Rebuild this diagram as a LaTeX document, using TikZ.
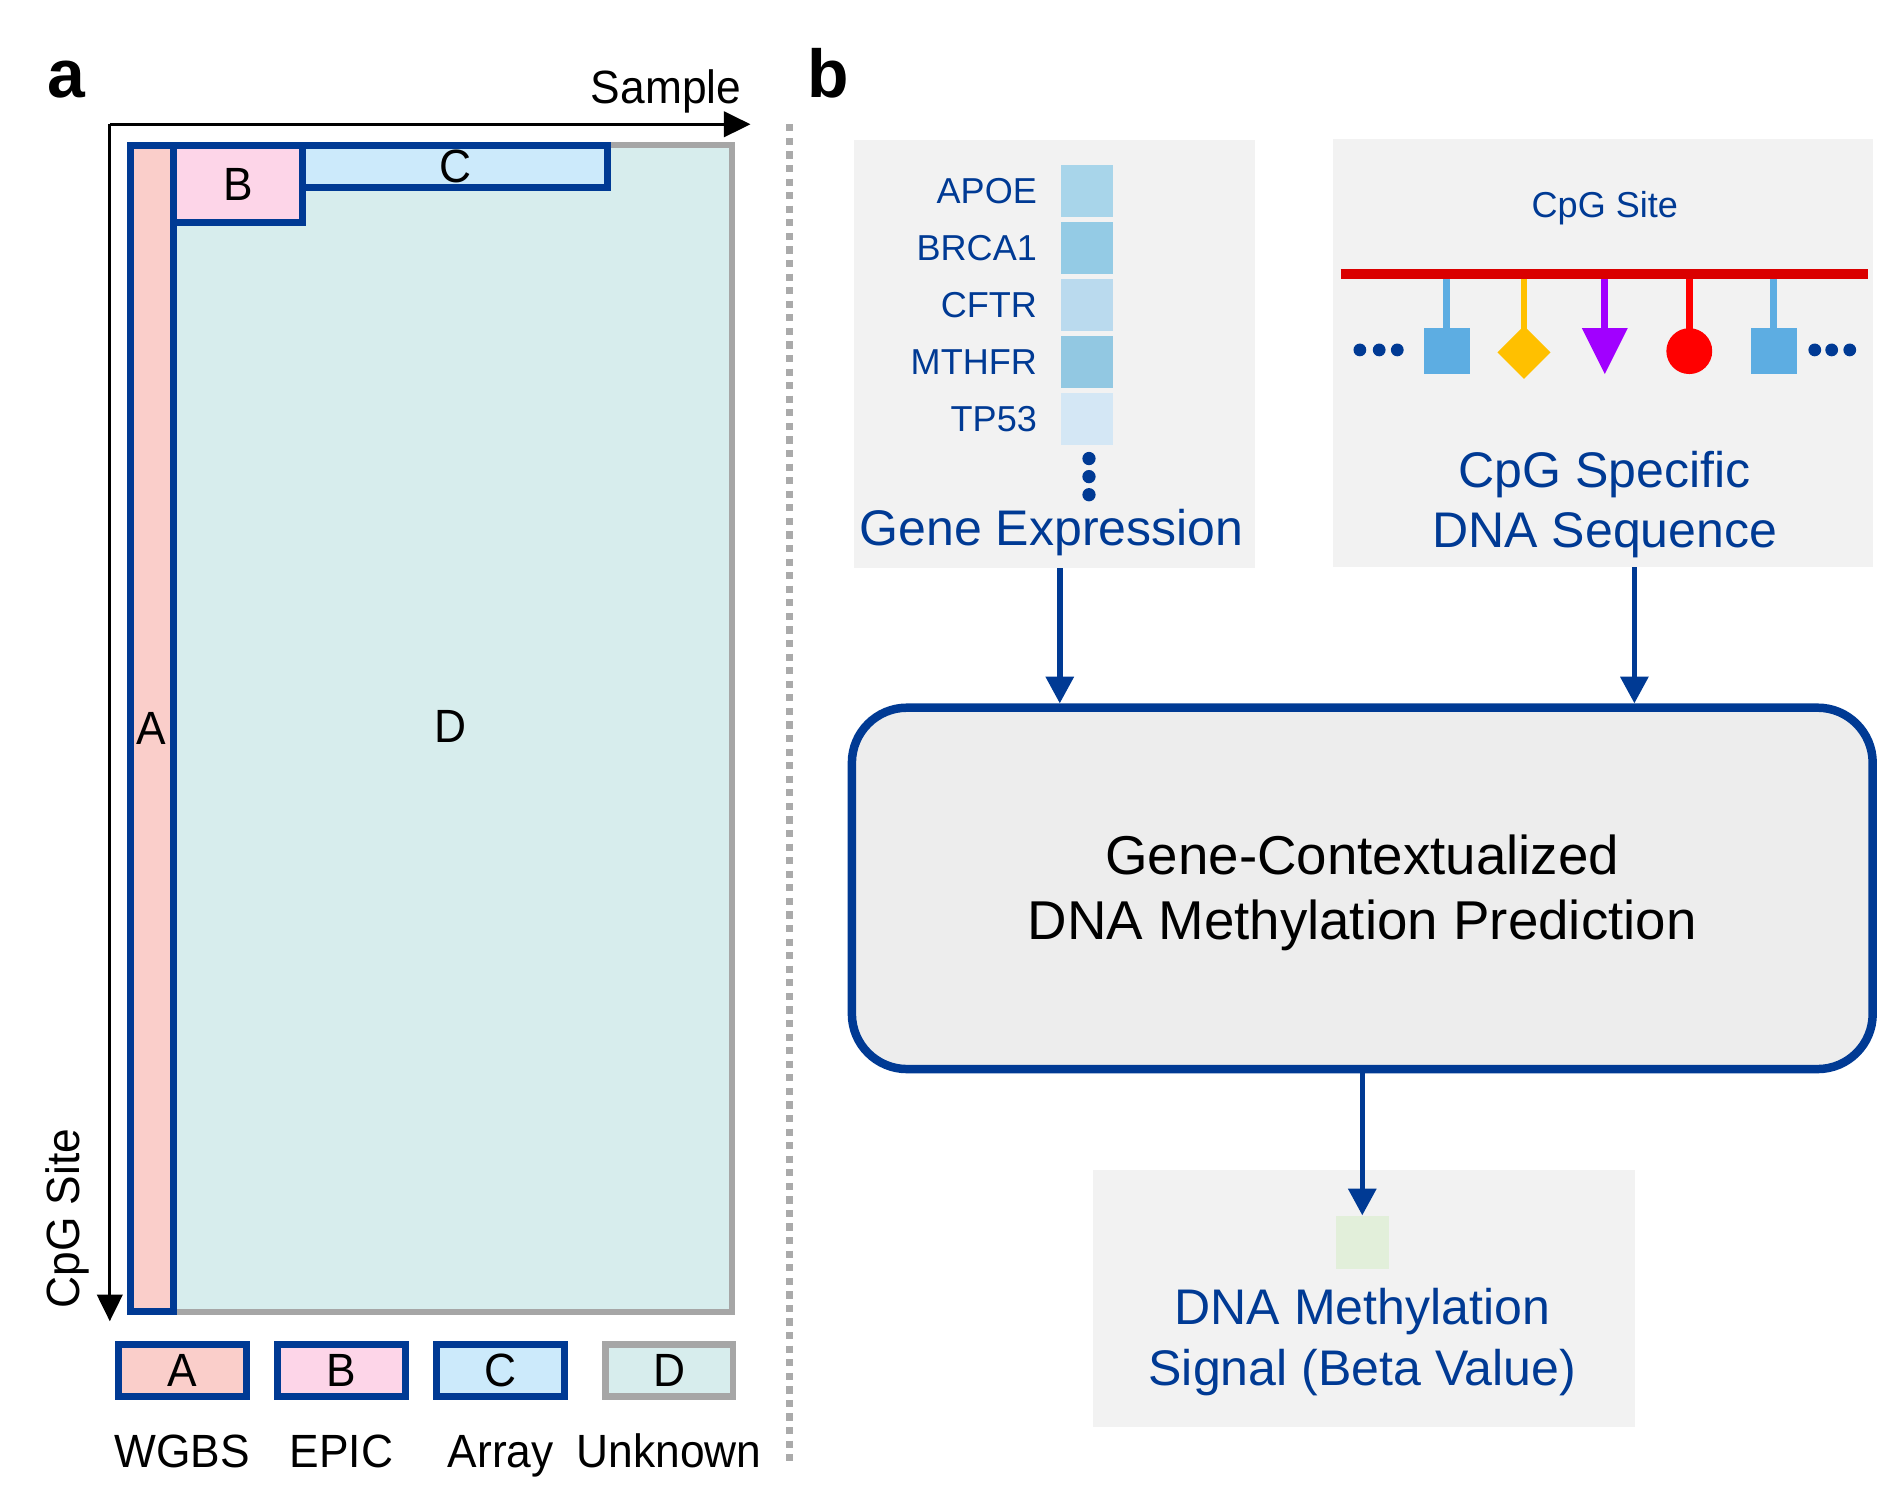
\documentclass[tikz,border=0pt]{standalone}
\usepackage{fontspec}
\setmainfont{Liberation Sans}
\newfontfamily\narrowsans[FakeStretch=0.95]{Liberation Sans}
\usetikzlibrary{arrows.meta,positioning}

\definecolor{navy}{RGB}{0,58,148}
\definecolor{edgegray}{RGB}{166,166,166}
\definecolor{dotgray}{RGB}{170,170,170}
\definecolor{panelgray}{RGB}{242,242,242}
\definecolor{boxgray}{RGB}{237,237,237}
\definecolor{fillA}{RGB}{250,206,202}
\definecolor{fillB}{RGB}{253,213,232}
\definecolor{fillC}{RGB}{204,234,251}
\definecolor{fillD}{RGB}{215,237,237}
\definecolor{apoe}{RGB}{168,213,234}
\definecolor{brca}{RGB}{148,203,229}
\definecolor{cftr}{RGB}{186,218,238}
\definecolor{mthfr}{RGB}{146,200,226}
\definecolor{tpft}{RGB}{212,231,245}
\definecolor{betagreen}{RGB}{226,239,218}
\definecolor{cpgblue}{RGB}{93,173,226}
\definecolor{cpgyellow}{RGB}{255,192,0}
\definecolor{cpgpurple}{RGB}{161,0,255}
\definecolor{cpgred}{RGB}{255,0,0}
\definecolor{strand}{RGB}{218,0,0}

\tikzstyle{cell}=[draw=navy, line width=1.6pt, inner sep=0pt, outer sep=0pt,
    anchor=north west, font=\narrowsans\fontsize{11}{13}\selectfont]
\tikzstyle{legbox}=[draw=navy, line width=1.6pt, inner sep=0pt,
    minimum width=10.6mm, minimum height=4.3mm, font=\narrowsans\fontsize{11}{13}\selectfont]
\tikzstyle{axislab}=[inner sep=0pt, font=\narrowsans\fontsize{11}{13}\selectfont]
\tikzstyle{panelno}=[inner sep=0pt, font=\fontsize{16}{19}\selectfont\bfseries, anchor=base]
\tikzstyle{panel}=[fill=panelgray, inner sep=0pt, outer sep=0pt, anchor=north west]
\tikzstyle{genesq}=[inner sep=0pt, minimum width=4.3mm, minimum height=4.3mm]
\tikzstyle{genelab}=[text=navy, inner sep=0pt, anchor=east,
    font=\fontsize{8.5}{10}\selectfont]
\tikzstyle{bigblue}=[text=navy, inner sep=0pt, anchor=base,
    font=\fontsize{11.8}{14.2}\selectfont]
\tikzstyle{predbox}=[draw=navy, line width=2pt, fill=boxgray, rounded corners=13pt,
    minimum width=84.6mm, minimum height=29.95mm, inner sep=0pt]
\tikzstyle{predtext}=[inner sep=0pt, anchor=base, font=\fontsize{12.9}{15.6}\selectfont]
\tikzstyle{flow}=[draw=navy, line width=1.3pt, -{Triangle[length=6.3pt,width=6.4pt]}]
\tikzstyle{axis}=[line width=0.7pt, -{Triangle[length=6.3pt,width=6pt]}]

\begin{document}
\begin{tikzpicture}[x=0.1mm, y=-0.1mm]
\useasboundingbox (0,0) rectangle (1568,1249);

% a: data matrix
\node[panelno] (pana) at (55,81) {a};
\coordinate (origin) at (91,103);
\coordinate (xend) at (622,103);
\coordinate (yend) at (91,1095);
\draw[axis] (origin) -- (xend);
\draw[axis] (origin) -- (yend);
\node[axislab, anchor=base east] (sample) at (615,85.5) {Sample};
\node[axislab, rotate=90] (siteaxis) at (56,1010) {CpG Site};

\node[cell, draw=edgegray, line width=1.4pt, fill=fillD, minimum width=49.9mm,
    minimum height=96.65mm] (cellD) at (108,120.5) {};
\node[cell, fill=fillA, minimum width=3.55mm, minimum height=96.65mm] (cellA) at (108,120.5) {A};
\node[cell, fill=fillB, minimum width=10.75mm, minimum height=6.4mm] (cellB) at (143.5,120.5) {B};
\node[cell, fill=fillC, minimum width=25.27mm, minimum height=3.48mm] (cellC) at (251,120.5) {C};
\node[axislab] (labD) at (373,602) {D};

\foreach \x/\l/\c/\e/\n in {151/A/fillA/navy/WGBS, 283/B/fillB/navy/EPIC,
    415/C/fillC/navy/Array, 554.5/D/fillD/edgegray/Unknown} {
  \node[legbox, fill=\c, draw=\e] (leg\l) at (\x,1136) {\l};
  \node[axislab, anchor=base] (name\l) at (\x,1216) {\n};
}

\draw[dotgray, line width=1.7pt, dash pattern=on 1.7pt off 1.5pt] (654.5,103) -- (654.5,1212);

% b: model
\node[panelno] (panb) at (686,81) {b};
\node[panel, minimum width=33.2mm, minimum height=35.5mm] (gex) at (708,116) {};
\node[panel, minimum width=44.7mm, minimum height=35.5mm] (cpg) at (1105,115) {};
\node[panel, minimum width=44.9mm, minimum height=21.3mm] (sig) at (906,970) {};

\foreach \g/\c [count=\i] in {APOE/apoe, BRCA1/brca, CFTR/cftr, MTHFR/mthfr, TP53/tpft} {
  \node[genesq, fill=\c] (sq\i) at (900.5,111+47.2*\i) {};
  \node[genelab] (gene\i) at (860,111+47.2*\i) {\g};
}
\foreach \y in {380,395,410}
  \fill[navy] (902.5,\y) circle[radius=0.55mm];
\node[bigblue] (gextxt) at (871.5,452) {Gene Expression};

\node[genelab, anchor=base] (cpgsite) at (1330,180) {CpG Site};
\foreach \x/\c in {1199/cpgblue, 1263/cpgyellow, 1330/cpgpurple, 1400/cpgred, 1470/cpgblue}
  \draw[\c, line width=1.6pt] (\x,227) -- (\x,275);
\draw[strand, line width=2.3pt] (1111,227) -- (1548,227);
\fill[cpgblue] (1180,272) rectangle (1218,310);
\fill[cpgyellow] (1263,270) -- (1285,292) -- (1263,314) -- (1241,292) -- cycle;
\fill[cpgpurple] (1311,272) -- (1349,272) -- (1330,310) -- cycle;
\fill[cpgred] (1400,291) circle[radius=1.9mm];
\fill[cpgblue] (1451,272) rectangle (1489,310);
\foreach \x in {1127,1143,1158,1504,1518,1533}
  \fill[navy] (\x,290) circle[radius=0.53mm];
\node[bigblue] (cpgtxt1) at (1330,404) {CpG Specific};
\node[bigblue] (cpgtxt2) at (1330,454) {DNA Sequence};

\node[predbox] (pred) at (1129,736.25) {};
\node[predtext] (predtxt1) at (1129,724.5) {Gene-Contextualized};
\node[predtext] (predtxt2) at (1129,779) {DNA Methylation Prediction};

\node[genesq, fill=betagreen, minimum width=4.4mm, minimum height=4.4mm] (beta) at (1129,1030) {};
\node[bigblue] (sigtxt1) at (1129,1098) {DNA Methylation};
\node[bigblue] (sigtxt2) at (1129,1148) {Signal (Beta Value)};

\coordinate (cpgout) at ([xshift=2.6mm]cpg.south);
\draw[flow] (sq1.west |- gex.south) -- (sq1.west |- pred.north);
\draw[flow] (cpgout) -- (cpgout |- pred.north);
\draw[flow] (pred.south) -- (beta.north);
\end{tikzpicture}
\end{document}
